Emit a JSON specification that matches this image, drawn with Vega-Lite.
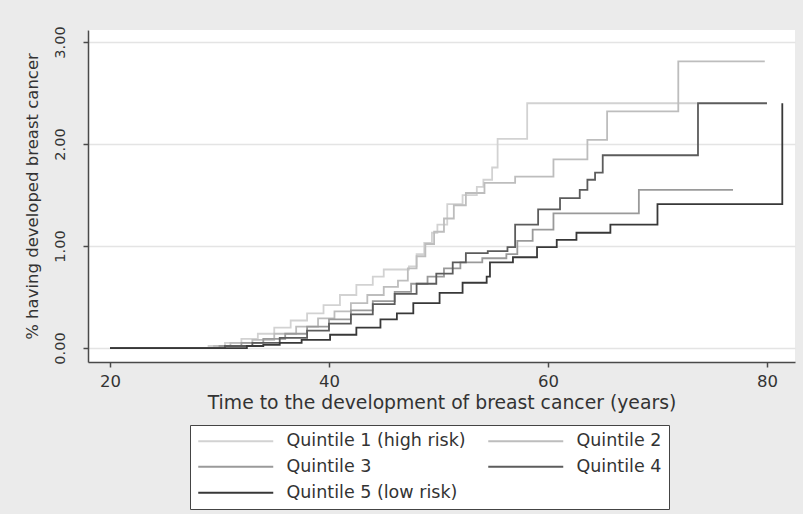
{
  "$schema": "https://vega.github.io/schema/vega-lite/v6.json",
  "width": 707,
  "height": 332,
  "autosize": "none",
  "padding": {"left": 88, "top": 30, "right": 8, "bottom": 152},
  "background": "#ebebeb",
  "config": {
    "view": {"fill": "white", "stroke": null},
    "font": "DejaVu Sans",
    "axis": {
      "domainColor": "#4a4a4a", "domainWidth": 1.5, "tickColor": "#4a4a4a", "tickWidth": 1.5, "tickSize": 5,
      "labelColor": "#333", "titleColor": "#333", "titleFontWeight": "normal", "labelFont": "DejaVu Sans", "titleFont": "DejaVu Sans"
    }
  },
  "data": {"values": [
    {"group": "Quintile 1 (high risk)", "t": 20, "pct": 0},
    {"group": "Quintile 1 (high risk)", "t": 27.5, "pct": 0},
    {"group": "Quintile 1 (high risk)", "t": 29, "pct": 0.02},
    {"group": "Quintile 1 (high risk)", "t": 30.5, "pct": 0.05},
    {"group": "Quintile 1 (high risk)", "t": 32, "pct": 0.09},
    {"group": "Quintile 1 (high risk)", "t": 33.5, "pct": 0.14},
    {"group": "Quintile 1 (high risk)", "t": 35, "pct": 0.2},
    {"group": "Quintile 1 (high risk)", "t": 36.5, "pct": 0.27},
    {"group": "Quintile 1 (high risk)", "t": 38, "pct": 0.34},
    {"group": "Quintile 1 (high risk)", "t": 39.5, "pct": 0.42},
    {"group": "Quintile 1 (high risk)", "t": 41, "pct": 0.52},
    {"group": "Quintile 1 (high risk)", "t": 42.5, "pct": 0.62},
    {"group": "Quintile 1 (high risk)", "t": 44, "pct": 0.7},
    {"group": "Quintile 1 (high risk)", "t": 45, "pct": 0.77},
    {"group": "Quintile 1 (high risk)", "t": 47.3, "pct": 0.8},
    {"group": "Quintile 1 (high risk)", "t": 48, "pct": 0.92},
    {"group": "Quintile 1 (high risk)", "t": 48.7, "pct": 1.03},
    {"group": "Quintile 1 (high risk)", "t": 49.4, "pct": 1.13},
    {"group": "Quintile 1 (high risk)", "t": 49.9, "pct": 1.21},
    {"group": "Quintile 1 (high risk)", "t": 50.8, "pct": 1.41},
    {"group": "Quintile 1 (high risk)", "t": 52.2, "pct": 1.5},
    {"group": "Quintile 1 (high risk)", "t": 53.5, "pct": 1.58},
    {"group": "Quintile 1 (high risk)", "t": 54.1, "pct": 1.65},
    {"group": "Quintile 1 (high risk)", "t": 54.9, "pct": 1.77},
    {"group": "Quintile 1 (high risk)", "t": 55.4, "pct": 2.05},
    {"group": "Quintile 1 (high risk)", "t": 58.1, "pct": 2.4},
    {"group": "Quintile 1 (high risk)", "t": 73.6, "pct": 2.4},
    {"group": "Quintile 2", "t": 20, "pct": 0},
    {"group": "Quintile 2", "t": 28, "pct": 0},
    {"group": "Quintile 2", "t": 29.5, "pct": 0.02},
    {"group": "Quintile 2", "t": 31, "pct": 0.05},
    {"group": "Quintile 2", "t": 33, "pct": 0.08},
    {"group": "Quintile 2", "t": 35, "pct": 0.14},
    {"group": "Quintile 2", "t": 37, "pct": 0.21},
    {"group": "Quintile 2", "t": 39, "pct": 0.29},
    {"group": "Quintile 2", "t": 40.5, "pct": 0.36},
    {"group": "Quintile 2", "t": 42, "pct": 0.44},
    {"group": "Quintile 2", "t": 43.5, "pct": 0.52},
    {"group": "Quintile 2", "t": 45, "pct": 0.6},
    {"group": "Quintile 2", "t": 46.3, "pct": 0.66},
    {"group": "Quintile 2", "t": 47.2, "pct": 0.78},
    {"group": "Quintile 2", "t": 48, "pct": 0.9},
    {"group": "Quintile 2", "t": 48.8, "pct": 1.02},
    {"group": "Quintile 2", "t": 49.6, "pct": 1.14},
    {"group": "Quintile 2", "t": 50.5, "pct": 1.27},
    {"group": "Quintile 2", "t": 51.4, "pct": 1.4},
    {"group": "Quintile 2", "t": 52.5, "pct": 1.52},
    {"group": "Quintile 2", "t": 54.2, "pct": 1.62},
    {"group": "Quintile 2", "t": 57, "pct": 1.68},
    {"group": "Quintile 2", "t": 60.5, "pct": 1.85},
    {"group": "Quintile 2", "t": 63.6, "pct": 2.04},
    {"group": "Quintile 2", "t": 65.4, "pct": 2.32},
    {"group": "Quintile 2", "t": 71.9, "pct": 2.81},
    {"group": "Quintile 2", "t": 79.8, "pct": 2.81},
    {"group": "Quintile 3", "t": 20, "pct": 0},
    {"group": "Quintile 3", "t": 28.5, "pct": 0},
    {"group": "Quintile 3", "t": 30, "pct": 0.02},
    {"group": "Quintile 3", "t": 32, "pct": 0.05},
    {"group": "Quintile 3", "t": 34, "pct": 0.09},
    {"group": "Quintile 3", "t": 36, "pct": 0.14},
    {"group": "Quintile 3", "t": 38, "pct": 0.21},
    {"group": "Quintile 3", "t": 40, "pct": 0.28},
    {"group": "Quintile 3", "t": 42, "pct": 0.37},
    {"group": "Quintile 3", "t": 44, "pct": 0.46},
    {"group": "Quintile 3", "t": 46, "pct": 0.55},
    {"group": "Quintile 3", "t": 47.5, "pct": 0.63},
    {"group": "Quintile 3", "t": 49, "pct": 0.7},
    {"group": "Quintile 3", "t": 50.5, "pct": 0.78},
    {"group": "Quintile 3", "t": 52, "pct": 0.84},
    {"group": "Quintile 3", "t": 54, "pct": 0.88},
    {"group": "Quintile 3", "t": 56.2, "pct": 0.92},
    {"group": "Quintile 3", "t": 57.2, "pct": 1.05},
    {"group": "Quintile 3", "t": 58.6, "pct": 1.16},
    {"group": "Quintile 3", "t": 60.5, "pct": 1.32},
    {"group": "Quintile 3", "t": 68.3, "pct": 1.55},
    {"group": "Quintile 3", "t": 76.9, "pct": 1.55},
    {"group": "Quintile 4", "t": 20, "pct": 0},
    {"group": "Quintile 4", "t": 29, "pct": 0},
    {"group": "Quintile 4", "t": 30.5, "pct": 0.02},
    {"group": "Quintile 4", "t": 33, "pct": 0.05},
    {"group": "Quintile 4", "t": 35.5, "pct": 0.1},
    {"group": "Quintile 4", "t": 38, "pct": 0.17},
    {"group": "Quintile 4", "t": 40, "pct": 0.24},
    {"group": "Quintile 4", "t": 42, "pct": 0.33},
    {"group": "Quintile 4", "t": 44, "pct": 0.43},
    {"group": "Quintile 4", "t": 46, "pct": 0.53},
    {"group": "Quintile 4", "t": 48, "pct": 0.63},
    {"group": "Quintile 4", "t": 49.8, "pct": 0.73},
    {"group": "Quintile 4", "t": 51.3, "pct": 0.84},
    {"group": "Quintile 4", "t": 52.5, "pct": 0.93},
    {"group": "Quintile 4", "t": 54.5, "pct": 0.95},
    {"group": "Quintile 4", "t": 56.3, "pct": 0.99},
    {"group": "Quintile 4", "t": 57, "pct": 1.21},
    {"group": "Quintile 4", "t": 59.1, "pct": 1.36},
    {"group": "Quintile 4", "t": 61.1, "pct": 1.47},
    {"group": "Quintile 4", "t": 62.9, "pct": 1.55},
    {"group": "Quintile 4", "t": 63.6, "pct": 1.65},
    {"group": "Quintile 4", "t": 64.3, "pct": 1.72},
    {"group": "Quintile 4", "t": 65, "pct": 1.89},
    {"group": "Quintile 4", "t": 73.7, "pct": 2.4},
    {"group": "Quintile 4", "t": 80, "pct": 2.4},
    {"group": "Quintile 5 (low risk)", "t": 20, "pct": 0},
    {"group": "Quintile 5 (low risk)", "t": 30, "pct": 0},
    {"group": "Quintile 5 (low risk)", "t": 32.5, "pct": 0.02},
    {"group": "Quintile 5 (low risk)", "t": 34, "pct": 0.03},
    {"group": "Quintile 5 (low risk)", "t": 35.5, "pct": 0.05},
    {"group": "Quintile 5 (low risk)", "t": 37.5, "pct": 0.08},
    {"group": "Quintile 5 (low risk)", "t": 40.1, "pct": 0.13},
    {"group": "Quintile 5 (low risk)", "t": 42.5, "pct": 0.2},
    {"group": "Quintile 5 (low risk)", "t": 44.7, "pct": 0.28},
    {"group": "Quintile 5 (low risk)", "t": 46.2, "pct": 0.34},
    {"group": "Quintile 5 (low risk)", "t": 47.7, "pct": 0.44},
    {"group": "Quintile 5 (low risk)", "t": 50.1, "pct": 0.54},
    {"group": "Quintile 5 (low risk)", "t": 52.2, "pct": 0.64},
    {"group": "Quintile 5 (low risk)", "t": 54.4, "pct": 0.7},
    {"group": "Quintile 5 (low risk)", "t": 54.7, "pct": 0.84},
    {"group": "Quintile 5 (low risk)", "t": 56.8, "pct": 0.89},
    {"group": "Quintile 5 (low risk)", "t": 59, "pct": 0.99},
    {"group": "Quintile 5 (low risk)", "t": 60.8, "pct": 1.06},
    {"group": "Quintile 5 (low risk)", "t": 62.6, "pct": 1.13},
    {"group": "Quintile 5 (low risk)", "t": 65.7, "pct": 1.21},
    {"group": "Quintile 5 (low risk)", "t": 70, "pct": 1.41},
    {"group": "Quintile 5 (low risk)", "t": 81.4, "pct": 2.4}
  ]},
  "mark": {"type": "line", "interpolate": "step-after", "strokeWidth": 1.8},
  "encoding": {
    "x": {
      "field": "t", "type": "quantitative",
      "scale": {"domain": [17.99, 82.56], "nice": false, "zero": false},
      "axis": {
        "values": [20, 40, 60, 80], "grid": false, "labelFontSize": 16.5, "labelPadding": 6,
        "title": "Time to the development of breast cancer (years)", "titleFontSize": 18.8, "titlePadding": 4
      }
    },
    "y": {
      "field": "pct", "type": "quantitative",
      "scale": {"domain": [-0.137, 3.118], "nice": false, "zero": false},
      "axis": {
        "values": [0, 1, 2, 3], "format": ".2f", "labelAngle": -90, "labelAlign": "center", "labelBaseline": "bottom",
        "labelFontSize": 14.5, "labelPadding": 16,
        "grid": true, "gridColor": "#e4e4e4", "gridWidth": 1.5,
        "title": "% having developed breast cancer", "titleFontSize": 16.5, "titlePadding": 12
      }
    },
    "color": {
      "field": "group", "type": "nominal",
      "scale": {
        "domain": ["Quintile 1 (high risk)", "Quintile 2", "Quintile 3", "Quintile 4", "Quintile 5 (low risk)"],
        "range": ["#d2d2d2", "#bdbdbd", "#9a9a9a", "#5c5c5c", "#383838"]
      },
      "legend": {
        "orient": "none", "legendX": 102, "legendY": 395, "title": null,
        "columns": 2, "direction": "horizontal",
        "symbolType": "M-5,0H5", "symbolSize": 225, "symbolStrokeWidth": 2,
        "symbolOffset": 30, "labelOffset": 42,
        "labelFontSize": 17.5, "labelColor": "#333", "labelLimit": 400,
        "strokeColor": "#444", "fillColor": "white", "padding": 7,
        "rowPadding": 7, "columnPadding": 18
      }
    },
    "strokeWidth": {
      "condition": {"test": "datum.group === 'Quintile 5 (low risk)'", "value": 2.6},
      "value": 1.8
    }
  }
}
